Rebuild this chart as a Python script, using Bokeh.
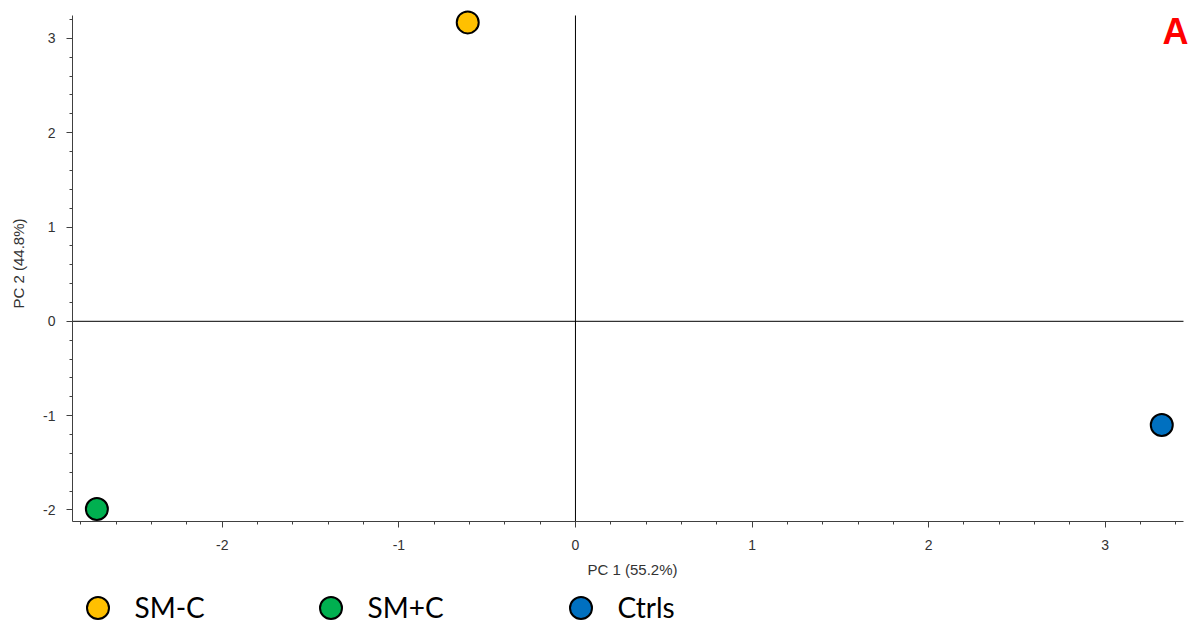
from bokeh.plotting import figure
from bokeh.layouts import column
from bokeh.models import (Label, Legend, LegendItem, SingleIntervalTicker,
                          Range1d, ColumnDataSource, PrintfTickFormatter)
from bokeh.embed import file_html
from bokeh.resources import INLINE

# ---- data ----
groups = ["SM-C", "SM+C", "Ctrls"]
pc1 = [-0.61, -2.71, 3.32]
pc2 = [3.17, -1.99, -1.10]
colors = ["#FFC000", "#00B050", "#0070C0"]
x_label = "PC 1 (55.2%)"
y_label = "PC 2 (44.8%)"
panel_tag = "A"

# axis extents (axis lines) and view extents (a little room for markers / tag)
x_axis_lo, x_axis_hi = -2.848, 3.443
y_axis_lo, y_axis_hi = -2.123, 3.243
x_view_hi = 3.494
y_view_hi = 3.349

p = figure(width=1192, height=580, output_backend="svg", toolbar_location=None,
           x_range=Range1d(x_axis_lo, x_view_hi), y_range=Range1d(y_axis_lo, y_view_hi),
           min_border_left=72, min_border_right=0, min_border_top=5,
           min_border_bottom=57)
p.outline_line_color = None
p.xgrid.visible = False
p.ygrid.visible = False
p.background_fill_color = "white"
p.border_fill_color = "white"

for ax, lab in ((p.xaxis[0], x_label), (p.yaxis[0], y_label)):
    ax.ticker = SingleIntervalTicker(interval=1, num_minor_ticks=5)
    ax.formatter = PrintfTickFormatter(format="%d")
    ax.axis_label = lab
    ax.axis_line_color = "#404040"
    ax.major_tick_line_color = "#404040"
    ax.minor_tick_line_color = "#404040"
    ax.major_tick_out = 6
    ax.major_tick_in = 0
    ax.minor_tick_out = 3
    ax.minor_tick_in = 0
    ax.major_label_text_font = "Liberation Sans"
    ax.major_label_text_font_size = "14px"
    ax.major_label_text_color = "#333333"
    ax.axis_label_text_font = "Liberation Sans"
    ax.axis_label_text_font_size = "15px"
    ax.axis_label_text_font_style = "normal"
    ax.axis_label_text_color = "#333333"

p.xaxis[0].bounds = (x_axis_lo, x_axis_hi)
p.yaxis[0].bounds = (y_axis_lo, y_axis_hi)
p.xaxis[0].major_label_standoff = 12
p.xaxis[0].axis_label_standoff = 8
p.yaxis[0].major_label_standoff = 11
p.yaxis[0].axis_label_standoff = 13

# zero cross lines, spanning the axis extents
p.segment(x0=[x_axis_lo, 0], y0=[0, y_axis_lo], x1=[x_axis_hi, 0], y1=[0, y_axis_hi],
          line_color="black", line_width=1)

for g, x, y, c in zip(groups, pc1, pc2, colors):
    src = ColumnDataSource(dict(x=[x], y=[y]))
    p.scatter("x", "y", source=src, size=22, fill_color=c, line_color="black",
              line_width=2)

p.add_layout(Label(x=1103, y=490, x_units="screen", y_units="screen", text=panel_tag,
                   text_font="Liberation Sans", text_font_style="bold",
                   text_font_size="36px", text_color="#FF0000",
                   text_align="center", text_baseline="alphabetic"))

# ---- legend strip below the chart ----
lg = figure(width=1192, height=45, output_backend="svg", toolbar_location=None,
            x_range=Range1d(100, 101), y_range=Range1d(100, 101),
            min_border_left=72, min_border_right=0, min_border_top=0,
            min_border_bottom=0, x_axis_type=None, y_axis_type=None)
lg.outline_line_color = None
lg.xgrid.visible = False
lg.ygrid.visible = False

leg_centers = [97, 330, 580]   # page x of legend markers
for g, x, y, c, cx in zip(groups, pc1, pc2, colors, leg_centers):
    src = ColumnDataSource(dict(x=[x], y=[y]))
    r = lg.scatter("x", "y", source=src, size=22, fill_color=c, line_color="black",
                   line_width=2)
    leg = Legend(items=[LegendItem(label=g, renderers=[r])],
                 location=(cx - 27.5 - 72, -9.5),
                 orientation="horizontal",
                 glyph_width=55, glyph_height=55, label_standoff=10,
                 label_text_font="Lato", label_text_font_size="28px",
                 label_text_color="black",
                 padding=0, margin=0, spacing=0,
                 background_fill_alpha=0, border_line_alpha=0)
    lg.add_layout(leg, "center")

open("out.html", "w").write(file_html(column(p, lg, spacing=0), INLINE))
